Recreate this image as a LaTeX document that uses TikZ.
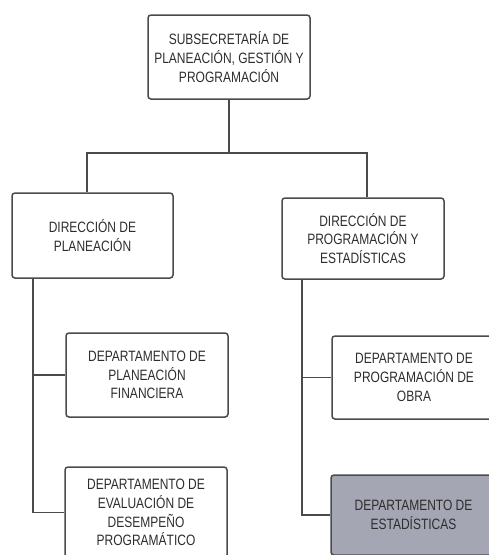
\documentclass[tikz,border=0pt]{standalone}
\usepackage{fontspec}
\setmainfont{Liberation Sans}[FakeStretch=0.8]
\begin{document}
\definecolor{linegray}{RGB}{75,75,75}
\definecolor{textgray}{RGB}{45,45,45}
\definecolor{statfill}{RGB}{165,166,180}
\begin{tikzpicture}[x=1pt,y=-1pt,
  orgbox/.style={draw=linegray,line width=1.5pt,rounded corners=3pt,
    text=textgray,align=center,font=\fontsize{15}{18.8}\selectfont,
    inner sep=0pt},
  link/.style={draw=linegray,line width=1.5pt}]
\useasboundingbox (0,0) rectangle (488,555);
% boxes: minimum size follows the drawn frame, centre sets the position
\node[orgbox,minimum width=162pt,minimum height=84pt] (top) at (229,57)
  {SUBSECRETARÍA DE\\PLANEACIÓN, GESTIÓN Y\\PROGRAMACIÓN};
\node[orgbox,minimum width=161pt,minimum height=85pt] (dp) at (92.5,235.5)
  {DIRECCIÓN DE\\PLANEACIÓN};
\node[orgbox,minimum width=162pt,minimum height=81pt] (dpe) at (363,238.5)
  {DIRECCIÓN DE\\PROGRAMACIÓN Y\\ESTADÍSTICAS};
\node[orgbox,minimum width=162pt,minimum height=84pt] (dpf) at (147,375)
  {DEPARTAMENTO DE\\PLANEACIÓN\\FINANCIERA};
\node[orgbox,minimum width=162pt,minimum height=91pt] (dedp) at (146,512.5)
  {DEPARTAMENTO DE\\EVALUACIÓN DE\\DESEMPEÑO\\PROGRAMÁTICO};
\node[orgbox,minimum width=164pt,minimum height=83pt] (dpo) at (414,377.5)
  {DEPARTAMENTO DE\\PROGRAMACIÓN DE\\OBRA};
\node[orgbox,fill=statfill,minimum width=165pt,minimum height=80pt] (de) at (413.5,515)
  {DEPARTAMENTO DE\\ESTADÍSTICAS};
% junction points of the tree
\coordinate (busL) at (87,153);
\coordinate (busR) at (367,153);
\coordinate (spL) at (33,0);
\coordinate (spR) at (302,0);
% top level to the two directorates
\draw[link] (top.south) -- (top.south |- busL);
\draw[link] (busL |- dp.north) -- (busL) -- (busR) -- (busR |- dpe.north);
% left branch
\draw[link] (spL |- dp.south) |- (dedp.west);
\draw[link] (spL |- dpf.west) -- (dpf.west);
% right branch
\draw[link] (spR |- dpe.south) |- (de.west);
\draw[link] (spR |- dpo.west) -- (dpo.west);
\end{tikzpicture}
\end{document}
